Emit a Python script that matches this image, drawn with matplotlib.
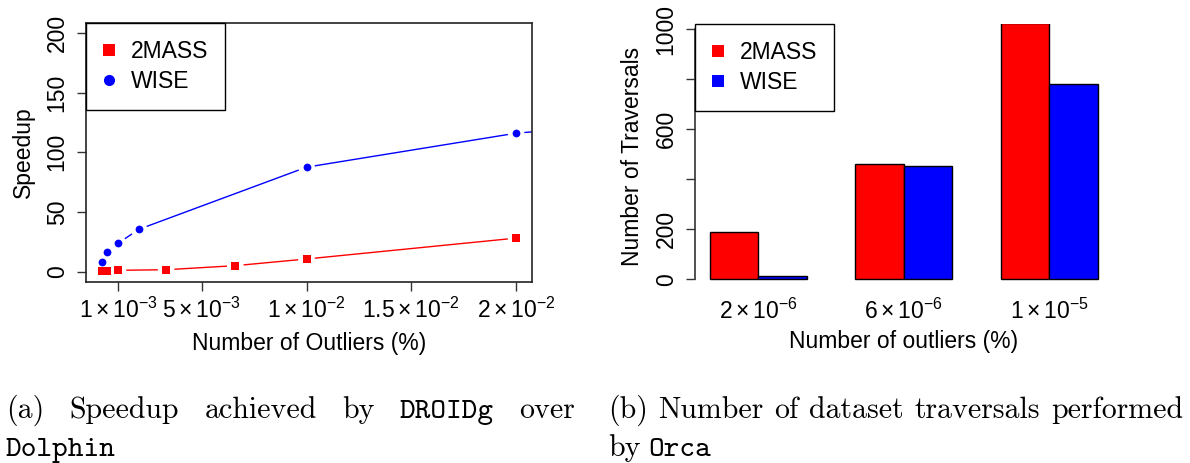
import matplotlib
matplotlib.use("Agg")
import matplotlib.pyplot as plt
from matplotlib.lines import Line2D
import numpy as np

# speedup curves (outlier fraction in %, speedup factor)
pct_2mass = [0.00025, 0.0005, 0.001, 0.0033, 0.0066, 0.01, 0.02]
speedup_2mass = [0.7, 0.8, 1.0, 1.5, 4.9, 10.5, 28.0]
pct_wise = [0.00025, 0.0005, 0.001, 0.002, 0.01, 0.02, 0.04]
speedup_wise = [7.7, 16.1, 23.6, 35.4, 87.5, 116.0, 145.0]

xticks_a = [0.001, 0.005, 0.01, 0.015, 0.02]
xticklabels_a = [r"$1\times10^{-3}$", r"$5\times10^{-3}$", r"$1\times10^{-2}$",
                 r"$1.5\times10^{-2}$", r"$2\times10^{-2}$"]
yticks_a = [0, 50, 100, 150, 200]

# dataset traversals per outlier setting
groups_b = [r"$2\times10^{-6}$", r"$6\times10^{-6}$", r"$1\times10^{-5}$"]
trav_2mass = [188, 461, 1024]
trav_wise = [14, 452, 780]
yticks_b = [0, 200, 400, 600, 800, 1000]
yticklabels_b = ["0", "200", "", "600", "", "1000"]

W, H = 1190, 463
FS = 16.5

plt.rcParams["font.family"] = ["Liberation Sans", "DejaVu Sans"]
plt.rcParams["mathtext.fontset"] = "custom"
plt.rcParams["mathtext.rm"] = "Liberation Sans"
plt.rcParams["mathtext.it"] = "Liberation Sans:italic"
plt.rcParams["mathtext.bf"] = "Liberation Sans:bold"
plt.rcParams["font.size"] = FS

fig = plt.figure(figsize=(W / 100, H / 100), dpi=100)


def px_axes(x0, y0, x1, y1):
    # pixel box (top-left origin) -> figure axes
    return fig.add_axes([x0 / W, 1 - y1 / H, (x1 - x0) / W, (y1 - y0) / H])


def gapped_line(ax, xs, ys, color, gap=9.0):
    # R type="b": segments stop short of each point
    pts = ax.transData.transform(np.column_stack([xs, ys]))
    inv = ax.transData.inverted()
    for p0, p1 in zip(pts[:-1], pts[1:]):
        d = p1 - p0
        L = np.hypot(*d)
        if L <= 2 * gap:
            continue
        a = p0 + d / L * gap
        b = p1 - d / L * gap
        seg = inv.transform(np.array([a, b]))
        ax.plot(seg[:, 0], seg[:, 1], color=color, lw=1.0)


def boxed_legend(ax, handles):
    leg = ax.legend(handles, ["2MASS", "WISE"], loc="upper left", borderaxespad=0,
                    fancybox=False, framealpha=1, edgecolor="black", fontsize=FS,
                    handlelength=0.5, handletextpad=0.7, borderpad=0.75,
                    labelspacing=0.3)
    leg.get_frame().set_linewidth(1.0)
    return leg


# ---- (a) speedup ----
ax1 = px_axes(86, 23, 532, 282)
ax1.set_xlim(-0.000525, 0.02076)
ax1.set_ylim(-8.8, 208.4)
gapped_line(ax1, pct_2mass, speedup_2mass, "red")
gapped_line(ax1, pct_wise, speedup_wise, "blue")
ax1.plot(pct_2mass, speedup_2mass, "s", color="red", ms=5.8, mew=0)
ax1.plot(pct_wise, speedup_wise, "o", color="blue", ms=5.6, mew=0)
ax1.set_xticks(xticks_a)
ax1.set_xticklabels(xticklabels_a)
ax1.set_yticks(yticks_a)
ax1.tick_params(axis="both", direction="out", length=6.5, width=1.0, colors="#333333",
                labelcolor="black", labelsize=FS)
ax1.tick_params(axis="x", pad=5)
ax1.tick_params(axis="y", pad=6, labelrotation=90)
for lab in ax1.get_yticklabels():
    lab.set_va("center")
for s in ax1.spines.values():
    s.set_linewidth(1.2)
    s.set_color("#222222")
ax1.set_xlabel("Number of Outliers (%)", fontsize=FS, labelpad=6)
ax1.set_ylabel("Speedup", fontsize=FS, labelpad=8)
boxed_legend(ax1, [Line2D([], [], ls="none", marker="s", color="red", ms=8, mew=0),
                   Line2D([], [], ls="none", marker="o", color="blue", ms=8, mew=0)])

# ---- (b) traversals ----
ax2 = px_axes(695, 23.7, 1112.7, 289.3)
idx = np.arange(len(groups_b))
ax2.bar(1.5 + 3 * idx, trav_2mass, width=1.0, color="red", edgecolor="black", lw=1.0)
ax2.bar(2.5 + 3 * idx, trav_wise, width=1.0, color="blue", edgecolor="black", lw=1.0)
ax2.set_xlim(0.69, 9.31)
ax2.set_ylim(-40, 1022.4)
ax2.set_xticks(2 + 3 * idx)
ax2.set_xticklabels(groups_b)
ax2.tick_params(axis="x", length=0, pad=7, labelsize=FS)
ax2.set_yticks(yticks_b)
ax2.set_yticklabels(yticklabels_b)
ax2.tick_params(axis="y", direction="out", length=6.5, width=1.0, colors="#333333",
                labelcolor="black", labelsize=FS, pad=6, labelrotation=90)
for lab in ax2.get_yticklabels():
    lab.set_va("center")
for side in ["top", "right", "bottom"]:
    ax2.spines[side].set_visible(False)
ax2.spines["left"].set_bounds(0, 1000)
ax2.spines["left"].set_linewidth(1.2)
ax2.spines["left"].set_color("#333333")
ax2.set_xlabel("Number of outliers (%)", fontsize=FS, labelpad=4)
ax2.set_ylabel("Number of Traversals", fontsize=FS, labelpad=8)
boxed_legend(ax2, [Line2D([], [], ls="none", marker="s", color="red", ms=8, mew=0),
                   Line2D([], [], ls="none", marker="s", color="blue", ms=8, mew=0)])

# ---- captions ----
CAP = 21.5
renderer = fig.canvas.get_renderer()


def justify(words, x0, x1, y):
    texts = []
    for w, fam in words:
        t = fig.text(0, 1 - y / H, w, family=fam, fontsize=CAP, va="baseline")
        texts.append(t)
    widths = [t.get_window_extent(renderer).width for t in texts]
    gap = (x1 - x0 - sum(widths)) / max(len(words) - 1, 1)
    x = x0
    for t, w in zip(texts, widths):
        t.set_x(x / W)
        x += w + gap


def place(words, x0, y, space=8.0):
    x = x0
    for w, fam in words:
        t = fig.text(x / W, 1 - y / H, w, family=fam, fontsize=CAP, va="baseline")
        x += t.get_window_extent(renderer).width + space


justify([("(a)", "cmr10"), ("Speedup", "cmr10"), ("achieved", "cmr10"),
         ("by", "cmr10"), ("DROIDg", "cmtt10"), ("over", "cmr10")], 6, 575, 418)
place([("Dolphin", "cmtt10")], 6, 456)
justify([("(b)", "cmr10"), ("Number", "cmr10"), ("of", "cmr10"), ("dataset", "cmr10"),
         ("traversals", "cmr10"), ("performed", "cmr10")], 608, 1183, 418)
place([("by", "cmr10"), ("Orca", "cmtt10")], 608, 456)

fig.savefig("out.png", dpi=100)
